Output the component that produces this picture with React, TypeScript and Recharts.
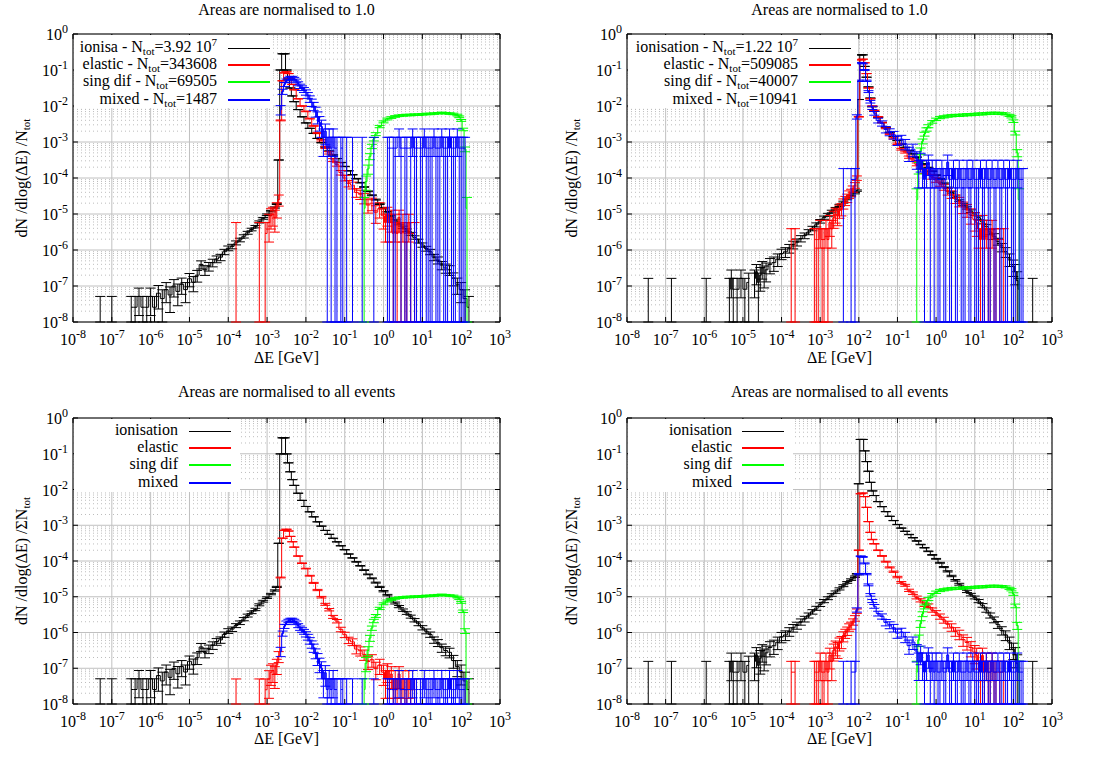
import React from "react";
import {
  ComposedChart,
  Line,
  XAxis,
  YAxis,
  CartesianGrid,
  ErrorBar,
  ReferenceArea,
} from "recharts";

// bins: [log10(ΔE / GeV) of bin centre, log10(dN/dlog(ΔE)/N_tot)], null = empty bin
type Bin = [number, number | null];

// ---- left-hand sample (top-left and bottom-left panels) ----
const ionisationA: Bin[] = [
  [-7.3, -7.59], [-7.0, -7.59],
  [-6.5, -7.59], [-6.4, -7.59], [-6.3, -7.29], [-6.2, -7.59], [-6.1, -7.59], [-6.0, -7.29], [-5.9, -7.59],
  [-5.8, -7.2], [-5.7, -7.35], [-5.6, -7.1], [-5.5, -7.25], [-5.4, -7.0], [-5.3, -7.15], [-5.2, -6.95],
  [-5.1, -7.1], [-5.0, -6.8], [-4.9, -6.9], [-4.8, -6.7], [-4.7, -6.4], [-4.6, -6.55], [-4.5, -6.45],
  [-4.4, -6.35], [-4.3, -6.25], [-4.2, -6.2], [-4.1, -6.05], [-4.0, -5.95], [-3.9, -5.9], [-3.8, -5.8],
  [-3.7, -5.72], [-3.6, -5.62], [-3.5, -5.52], [-3.4, -5.43], [-3.3, -5.35], [-3.2, -5.22], [-3.1, -5.12],
  [-3.0, -5.02], [-2.9, -4.92], [-2.8, -4.82], [-2.75, -4.72], [-2.7, -3.5], [-2.65, -1.0], [-2.6, -0.55],
  [-2.55, -0.55], [-2.5, -1.0], [-2.45, -1.25], [-2.4, -1.5], [-2.35, -1.72], [-2.3, -1.88], [-2.2, -2.1],
  [-2.1, -2.3], [-2.0, -2.47], [-1.9, -2.62], [-1.8, -2.76], [-1.7, -2.9], [-1.6, -3.02], [-1.5, -3.14],
  [-1.4, -3.25], [-1.3, -3.36], [-1.2, -3.46], [-1.1, -3.57], [-1.0, -3.68], [-0.9, -3.8], [-0.8, -3.91],
  [-0.7, -4.02], [-0.6, -4.13], [-0.5, -4.25], [-0.4, -4.37], [-0.3, -4.48], [-0.2, -4.6], [-0.1, -4.72],
  [0.0, -4.84], [0.1, -4.95], [0.2, -5.06], [0.3, -5.17], [0.4, -5.27], [0.5, -5.37], [0.6, -5.45],
  [0.7, -5.55], [0.8, -5.65], [0.9, -5.75], [1.0, -5.86], [1.1, -5.96], [1.2, -6.05], [1.3, -6.2],
  [1.4, -6.28], [1.5, -6.42], [1.6, -6.5], [1.7, -6.55], [1.8, -6.78], [1.9, -6.95], [2.0, -7.1],
  [2.1, -7.35], [2.2, -7.59],
];
const elasticA: Bin[] = [
  [-3.8, -5.54], [-3.2, -5.54], [-3.05, -5.54], [-2.95, -5.24], [-2.9, -5.05], [-2.85, -5.0], [-2.8, -5.1],
  [-2.75, -4.85], [-2.7, -4.6], [-2.65, -2.4], [-2.6, -1.3], [-2.55, -1.08], [-2.5, -1.05], [-2.45, -1.1],
  [-2.4, -1.25], [-2.35, -1.4], [-2.3, -1.55], [-2.2, -1.8], [-2.1, -2.0], [-2.0, -2.15], [-1.9, -2.35],
  [-1.8, -2.55], [-1.7, -2.75], [-1.6, -2.95], [-1.5, -3.15], [-1.4, -3.3], [-1.3, -3.5], [-1.2, -3.62],
  [-1.1, -3.85], [-1.0, -4.0], [-0.9, -4.15], [-0.8, -4.2], [-0.7, -4.4], [-0.6, -4.45], [-0.5, -4.55],
  [-0.4, -4.75], [-0.3, -4.7], [-0.2, -4.95], [-0.1, -4.85], [0.0, -5.05], [0.05, -5.24], [0.1, -5.0],
  [0.15, -5.24], [0.2, -5.1], [0.25, -5.54], [0.3, -5.24], [0.35, -5.54], [0.4, -5.1], [0.45, -5.54],
  [0.5, -5.24], [0.55, -5.54], [0.6, -5.54], [0.65, -5.24], [0.7, -5.54], [0.8, -5.54],
];
const singDifA: Bin[] = [
  [-0.5, -4.84], [-0.45, -4.1], [-0.4, -3.75], [-0.35, -3.4], [-0.3, -3.12], [-0.25, -2.92], [-0.2, -2.78],
  [-0.1, -2.57], [0.0, -2.44], [0.1, -2.36], [0.2, -2.32], [0.3, -2.29], [0.4, -2.27], [0.5, -2.26],
  [0.6, -2.25], [0.7, -2.25], [0.8, -2.24], [0.9, -2.24], [1.0, -2.23], [1.1, -2.22], [1.2, -2.22],
  [1.3, -2.21], [1.4, -2.2], [1.5, -2.19], [1.6, -2.2], [1.7, -2.21], [1.8, -2.22], [1.9, -2.25],
  [1.95, -2.3], [2.0, -2.4], [2.05, -2.65], [2.1, -3.2], [2.15, -4.84],
];
const mixedA: Bin[] = [
  [-2.65, -2.1], [-2.6, -1.6], [-2.55, -1.4], [-2.5, -1.3], [-2.45, -1.25], [-2.4, -1.22], [-2.35, -1.22],
  [-2.3, -1.25], [-2.25, -1.3], [-2.2, -1.38], [-2.15, -1.45], [-2.1, -1.5], [-2.05, -1.55], [-2.0, -1.62],
  [-1.95, -1.7], [-1.9, -1.8], [-1.85, -1.9], [-1.8, -2.0], [-1.75, -2.15], [-1.7, -2.3], [-1.65, -2.45],
  [-1.6, -2.57], [-1.55, -2.87], [-1.5, -2.7], [-1.45, -3.17], [-1.4, -2.87], [-1.35, -3.17], [-1.3, -2.87],
  [-1.25, -3.17], [-1.2, -3.17], [-1.15, null], [-1.1, -3.17], [-1.05, -3.17], [-1.0, null], [-0.95, -3.17],
  [-0.8, -3.17], [-0.55, -3.17], [-0.25, -3.17], [0.1, -3.17], [0.15, -3.17], [0.25, -3.17], [0.3, -3.17],
  [0.4, -2.87], [0.45, -3.17], [0.55, -3.17], [0.6, -3.17], [0.7, -3.17], [0.75, -2.87], [0.8, -3.17],
  [0.85, -3.17], [0.95, -3.17], [1.0, -3.17], [1.05, -2.87], [1.1, -3.17], [1.15, -3.17], [1.2, -3.17],
  [1.25, -3.17], [1.3, -2.87], [1.35, -3.17], [1.4, -3.17], [1.45, -3.17], [1.5, -2.87], [1.55, -3.17],
  [1.6, -3.17], [1.65, -3.17], [1.7, -2.87], [1.75, -3.17], [1.8, -3.17], [1.85, -3.17], [1.9, -2.87],
  [1.95, -3.17], [2.0, -3.17], [2.05, -3.17], [2.1, -3.17],
];

// ---- right-hand sample (top-right and bottom-right panels) ----
const ionisationB: Bin[] = [
  [-7.45, -7.09], [-6.85, -7.09], [-5.95, -7.09],
  [-5.35, -7.09], [-5.3, -6.79], [-5.25, -7.09], [-5.15, -7.09], [-5.05, -6.79], [-4.95, -7.09],
  [-4.85, -6.9], [-4.7, -6.79], [-4.65, -6.6], [-4.6, -6.9], [-4.55, -6.7], [-4.5, -6.5], [-4.45, -6.65],
  [-4.4, -6.55], [-4.3, -6.4], [-4.2, -6.35], [-4.1, -6.25], [-4.0, -6.1], [-3.9, -6.05], [-3.8, -5.95],
  [-3.7, -5.85], [-3.6, -5.78], [-3.5, -5.68], [-3.4, -5.6], [-3.3, -5.5], [-3.2, -5.4], [-3.1, -5.3],
  [-3.0, -5.2], [-2.9, -5.1], [-2.8, -5.02], [-2.7, -4.93], [-2.6, -4.85], [-2.5, -4.76], [-2.4, -4.67],
  [-2.3, -4.58], [-2.2, -4.5], [-2.1, -4.42], [-2.05, -4.35], [-2.0, -1.82], [-1.95, -0.58], [-1.9, -0.58],
  [-1.85, -0.9], [-1.8, -1.2], [-1.75, -1.47], [-1.7, -1.78], [-1.65, -2.02], [-1.6, -2.15], [-1.5, -2.32],
  [-1.4, -2.46], [-1.3, -2.6], [-1.2, -2.73], [-1.1, -2.85], [-1.0, -2.96], [-0.9, -3.06], [-0.8, -3.15],
  [-0.7, -3.24], [-0.6, -3.33], [-0.5, -3.42], [-0.4, -3.52], [-0.3, -3.61], [-0.2, -3.71], [-0.1, -3.81],
  [0.0, -3.92], [0.1, -4.03], [0.2, -4.15], [0.3, -4.27], [0.4, -4.4], [0.5, -4.52], [0.6, -4.63],
  [0.7, -4.73], [0.8, -4.83], [0.9, -4.92], [1.0, -5.0], [1.1, -5.1], [1.2, -5.22], [1.3, -5.35],
  [1.4, -5.5], [1.5, -5.62], [1.6, -5.76], [1.7, -5.92], [1.8, -6.05], [1.9, -6.25], [2.0, -6.45],
  [2.05, -6.6], [2.1, -6.85], [2.15, -7.09], [2.5, -7.09],
];
const elasticB: Bin[] = [
  [-3.75, -5.71], [-3.65, -5.71], [-3.15, -5.71], [-3.1, -5.71], [-3.05, -5.71], [-3.0, -5.41], [-2.95, -5.71],
  [-2.9, -5.71], [-2.85, -5.41], [-2.8, -5.71], [-2.75, -5.24], [-2.7, -5.41], [-2.65, -5.1], [-2.6, -5.0],
  [-2.55, -5.05], [-2.5, -4.9], [-2.45, -4.85], [-2.4, -4.7], [-2.35, -4.62], [-2.3, -4.55], [-2.25, -4.45],
  [-2.2, -4.4], [-2.15, -4.3], [-2.1, -4.2], [-2.05, -4.0], [-2.0, -2.3], [-1.95, -0.72], [-1.9, -0.7],
  [-1.85, -0.8], [-1.8, -1.1], [-1.75, -1.5], [-1.7, -1.8], [-1.65, -2.0], [-1.6, -2.12], [-1.5, -2.3],
  [-1.4, -2.46], [-1.3, -2.62], [-1.2, -2.78], [-1.1, -2.9], [-1.0, -3.05], [-0.9, -3.2], [-0.8, -3.28],
  [-0.7, -3.42], [-0.6, -3.5], [-0.5, -3.62], [-0.4, -3.7], [-0.3, -3.82], [-0.2, -3.85], [-0.1, -3.97],
  [0.0, -4.05], [0.1, -4.15], [0.2, -4.25], [0.3, -4.37], [0.4, -4.45], [0.5, -4.57], [0.6, -4.65],
  [0.7, -4.8], [0.8, -4.88], [0.9, -5.02], [1.0, -5.15], [1.05, -5.24], [1.1, -5.41], [1.15, -5.71],
  [1.2, -5.24], [1.25, -5.71], [1.3, -5.41], [1.35, -5.71], [1.4, -5.71], [1.45, -5.41], [1.5, -5.71],
  [1.55, -5.71], [1.65, -5.71], [1.75, -5.71],
];
const singDifB: Bin[] = [
  [-0.5, -4.6], [-0.45, -3.7], [-0.4, -3.25], [-0.35, -2.98], [-0.3, -2.78], [-0.25, -2.65], [-0.2, -2.56],
  [-0.1, -2.44], [0.0, -2.37], [0.1, -2.32], [0.2, -2.3], [0.3, -2.28], [0.4, -2.27], [0.5, -2.26],
  [0.6, -2.26], [0.7, -2.25], [0.8, -2.24], [0.9, -2.24], [1.0, -2.23], [1.1, -2.22], [1.2, -2.22],
  [1.3, -2.21], [1.4, -2.2], [1.5, -2.2], [1.6, -2.2], [1.7, -2.21], [1.8, -2.22], [1.9, -2.26],
  [1.95, -2.3], [2.0, -2.42], [2.05, -2.75], [2.1, -3.3], [2.15, -4.6],
];
const mixedB: Bin[] = [
  [-2.4, -4.04], [-2.2, -4.04], [-2.1, -4.04], [-2.05, -2.3], [-2.0, -1.3], [-1.95, -0.8], [-1.9, -0.82],
  [-1.85, -1.0], [-1.8, -1.3], [-1.75, -1.6], [-1.7, -1.88], [-1.65, -2.05], [-1.6, -2.2], [-1.5, -2.4],
  [-1.4, -2.48], [-1.3, -2.65], [-1.2, -2.72], [-1.1, -2.8], [-1.0, -2.95], [-0.9, -2.92], [-0.8, -3.05],
  [-0.7, -3.3], [-0.6, -3.2], [-0.5, -3.45], [-0.45, -3.74], [-0.4, -3.5], [-0.35, -3.74], [-0.3, -4.04],
  [-0.25, -3.74], [-0.2, -3.56], [-0.15, -4.04], [-0.1, -3.74], [-0.05, -4.04], [0.0, -3.74], [0.05, -4.04],
  [0.1, -4.04], [0.15, -3.74], [0.2, -4.04], [0.25, -4.04], [0.3, -3.56], [0.35, -4.04], [0.4, -4.04],
  [0.45, -3.74], [0.5, -4.04], [0.55, -4.04], [0.6, -3.74], [0.65, -4.04], [0.7, -4.04], [0.75, -4.04],
  [0.8, -3.74], [0.85, -4.04], [0.9, -4.04], [0.95, -3.74], [1.0, -4.04], [1.05, -4.04], [1.1, -4.04],
  [1.15, -3.74], [1.2, -4.04], [1.25, -4.04], [1.3, -3.74], [1.35, -4.04], [1.4, -4.04], [1.45, -3.74],
  [1.5, -4.04], [1.55, -4.04], [1.6, -3.74], [1.65, -4.04], [1.7, -4.04], [1.75, -3.74], [1.8, -4.04],
  [1.85, -4.04], [1.9, -3.74], [1.95, -4.04], [2.0, -4.04], [2.05, -4.04], [2.1, -3.74], [2.15, -4.04],
  [2.2, -4.04], [2.25, -4.04],
];

const processNames = ["ionisation", "elastic", "sing dif", "mixed"];
const shortNamesA = ["ionisa", "elastic", "sing dif", "mixed"];
const nTotA = [3.92e7, 343608, 69505, 1487];
const nTotB = [1.22e7, 509085, 40007, 10941];
const lineColors = ["#000000", "#ff0000", "#00ff00", "#0000ff"];
const keyWidths = [1, 1.5, 2, 2];

const xTicks = [1e-8, 1e-7, 1e-6, 1e-5, 1e-4, 1e-3, 1e-2, 1e-1, 1, 10, 100, 1000];
const yTicks = [1e-8, 1e-7, 1e-6, 1e-5, 1e-4, 1e-3, 1e-2, 1e-1, 1];
const minorY: number[] = [];
for (let n = -8; n < 0; n++) for (let m = 2; m <= 9; m++) minorY.push(m * Math.pow(10, n));

const FONT = "'Liberation Serif', 'Times New Roman', serif";
const PW = 556;
const PH = 381;
const TIC = 5;

type Plot = { left: number; top: number; right: number; bottom: number };

function buildRows(bins: Bin[], nTot: number, scale: number) {
  const rows: any[] = [];
  let prev: number | null = null;
  for (const [e, l] of bins) {
    if (prev !== null && e - prev > 0.11) rows.push({ x: Math.pow(10, (prev + e) / 2), y: null });
    prev = e;
    if (l === null) {
      rows.push({ x: Math.pow(10, e), y: null });
      continue;
    }
    const v = Math.pow(10, l);
    const n = v * nTot; // entries in the bin
    const y = v * scale;
    const sy = (Math.sqrt(n) / nTot) * scale;
    const lowN = n - Math.sqrt(n);
    // single entries have their lower error at zero: drawn down to the axis
    const lo = lowN < 0.5 ? 1e-8 : Math.max((lowN / nTot) * scale, 1e-8);
    rows.push({ x: Math.pow(10, e), y, err: [y - lo, sy] });
  }
  return rows;
}

// gnuplot style: label below, tics pointing inwards on both mirrored sides
function XTick(props: any) {
  const { x, payload, plot } = props;
  const exp = Math.round(Math.log10(payload.value));
  return (
    <g>
      <line x1={x} x2={x} y1={plot.bottom} y2={plot.bottom - TIC} stroke="#000" />
      <line x1={x} x2={x} y1={plot.top} y2={plot.top + TIC} stroke="#000" />
      <text x={x} y={plot.bottom + 23} textAnchor="middle" fontFamily={FONT} fontSize={16} fill="#000">
        10<tspan dy={-7} fontSize={12}>{exp}</tspan>
      </text>
    </g>
  );
}

function YTick(props: any) {
  const { y, payload, plot } = props;
  const exp = Math.round(Math.log10(payload.value));
  return (
    <g>
      <line x1={plot.left} x2={plot.left + TIC} y1={y} y2={y} stroke="#000" />
      <line x1={plot.right} x2={plot.right - TIC} y1={y} y2={y} stroke="#000" />
      <text x={plot.left - 5} y={y + 6} textAnchor="end" fontFamily={FONT} fontSize={16} fill="#000">
        10<tspan dy={-7} fontSize={12}>{exp}</tspan>
      </text>
    </g>
  );
}

const sub = (t: string) => (
  <span style={{ fontSize: 11, position: "relative", top: 3, lineHeight: "11px" }}>{t}</span>
);
const sup = (t: string) => (
  <span style={{ fontSize: 11, position: "relative", top: -6, lineHeight: "11px" }}>{t}</span>
);

function nTotText(n: number) {
  if (n >= 1e7) return <>{(n / 1e7).toFixed(2)} 10{sup("7")}</>;
  return <>{n}</>;
}

interface PanelCfg {
  left: number;
  top: number;
  plot: Plot;
  bins: Bin[][];
  nTot: number[];
  allEvents: boolean;
  title: string;
  titleY: number;
  yLabelX: number;
  names: string[];
  legend: { boxW: number; textRight: number; lineX1: number; lineX2: number; y0: number };
}

function Panel({ cfg }: { cfg: PanelCfg }) {
  const { plot, bins, nTot, allEvents, legend } = cfg;
  const total = nTot.reduce((a, b) => a + b, 0);
  const rows = bins.map((b, i) => buildRows(b, nTot[i], allEvents ? nTot[i] / total : 1));
  const midX = (plot.left + plot.right) / 2;
  const midY = (plot.top + plot.bottom) / 2;
  return (
    <div style={{ position: "absolute", left: cfg.left, top: cfg.top, width: PW, height: PH }}>
      <ComposedChart
        width={PW}
        height={PH}
        margin={{ top: plot.top, right: PW - plot.right, bottom: 0, left: 0 }}
      >
        <CartesianGrid stroke="#c0c0c0" strokeWidth={1} />
        <CartesianGrid
          vertical={false}
          horizontalValues={minorY}
          stroke="#bdbdbd"
          strokeDasharray="1 3"
        />
        <XAxis
          dataKey="x"
          type="number"
          scale="log"
          domain={[1e-8, 1e3]}
          ticks={xTicks}
          interval={0}
          allowDataOverflow
          height={PH - plot.bottom}
          tickLine={false}
          axisLine={false}
          tick={(p: any) => <XTick {...p} plot={plot} />}
        />
        <YAxis
          type="number"
          scale="log"
          domain={[1e-8, 1]}
          ticks={yTicks}
          interval={0}
          allowDataOverflow
          width={plot.left}
          tickLine={false}
          axisLine={false}
          tick={(p: any) => <YTick {...p} plot={plot} />}
        />
        {rows.map((r, i) => (
          <Line
            key={i}
            data={r}
            dataKey="y"
            type="step"
            stroke={lineColors[i]}
            strokeWidth={1}
            dot={false}
            activeDot={false}
            connectNulls={false}
            isAnimationActive={false}
          >
            <ErrorBar dataKey="err" direction="y" width={5} stroke={lineColors[i]} strokeWidth={1} />
          </Line>
        ))}
        <ReferenceArea x1={1e-8} x2={1e3} y1={1e-8} y2={1} fill="none" stroke="#000" strokeWidth={1} />
      </ComposedChart>

      <div
        style={{
          position: "absolute",
          left: plot.left,
          width: plot.right - plot.left,
          top: cfg.titleY - 10,
          textAlign: "center",
          fontSize: 16,
          lineHeight: "20px",
        }}
      >
        {cfg.title}
      </div>
      <div
        style={{
          position: "absolute",
          left: midX - 100,
          width: 200,
          top: 348,
          textAlign: "center",
          fontSize: 16,
          lineHeight: "20px",
        }}
      >
        ΔE [GeV]
      </div>
      <div
        style={{
          position: "absolute",
          left: cfg.yLabelX,
          top: midY,
          transform: "translate(-50%, -50%) rotate(-90deg)",
          whiteSpace: "nowrap",
          fontSize: 16,
          lineHeight: "18px",
        }}
      >
        dN /dlog(ΔE) /{allEvents ? "Σ" : ""}N{sub("tot")}
      </div>

      <div
        style={{
          position: "absolute",
          left: plot.left + 1,
          top: plot.top + 1,
          width: legend.boxW,
          height: 73,
          background: "#fff",
        }}
      />
      {cfg.names.map((name, i) => (
        <React.Fragment key={name}>
          <div
            style={{
              position: "absolute",
              right: PW - legend.textRight,
              top: legend.y0 + i * 17.2 - 9,
              whiteSpace: "nowrap",
              fontSize: 16,
              lineHeight: "16px",
            }}
          >
            {allEvents ? (
              name
            ) : (
              <>
                {name} - N{sub("tot")}={nTotText(nTot[i])}
              </>
            )}
          </div>
          <div
            style={{
              position: "absolute",
              left: legend.lineX1,
              width: legend.lineX2 - legend.lineX1,
              top: legend.y0 + i * 17.2 - keyWidths[i] / 2,
              height: keyWidths[i],
              background: lineColors[i],
            }}
          />
        </React.Fragment>
      ))}
    </div>
  );
}

const panels: PanelCfg[] = [
  {
    left: 0,
    top: 0,
    plot: { left: 73, top: 34, right: 500, bottom: 322 },
    bins: [ionisationA, elasticA, singDifA, mixedA],
    nTot: nTotA,
    allEvents: false,
    title: "Areas are normalised to 1.0",
    titleY: 10,
    yLabelX: 22,
    names: shortNamesA,
    legend: { boxW: 199, textRight: 217, lineX1: 228, lineX2: 270, y0: 48 },
  },
  {
    left: PW,
    top: 0,
    plot: { left: 71, top: 34, right: 496, bottom: 322 },
    bins: [ionisationB, elasticB, singDifB, mixedB],
    nTot: nTotB,
    allEvents: false,
    title: "Areas are normalised to 1.0",
    titleY: 10,
    yLabelX: 16,
    names: processNames,
    legend: { boxW: 229, textRight: 242, lineX1: 253, lineX2: 295, y0: 48 },
  },
  {
    left: 0,
    top: PH,
    plot: { left: 73, top: 37, right: 500, bottom: 323 },
    bins: [ionisationA, elasticA, singDifA, mixedA],
    nTot: nTotA,
    allEvents: true,
    title: "Areas are normalised to all events",
    titleY: 11,
    yLabelX: 22,
    names: processNames,
    legend: { boxW: 166, textRight: 178, lineX1: 189, lineX2: 231, y0: 50 },
  },
  {
    left: PW,
    top: PH,
    plot: { left: 71, top: 37, right: 496, bottom: 323 },
    bins: [ionisationB, elasticB, singDifB, mixedB],
    nTot: nTotB,
    allEvents: true,
    title: "Areas are normalised to all events",
    titleY: 11,
    yLabelX: 16,
    names: processNames,
    legend: { boxW: 165, textRight: 176, lineX1: 186, lineX2: 228, y0: 50 },
  },
];

export default function App() {
  return (
    <div
      style={{
        position: "absolute",
        left: 0,
        top: 0,
        width: 1112,
        height: 762,
        background: "#fff",
        fontFamily: FONT,
        color: "#000",
      }}
    >
      {panels.map((p, i) => (
        <Panel key={i} cfg={p} />
      ))}
    </div>
  );
}
